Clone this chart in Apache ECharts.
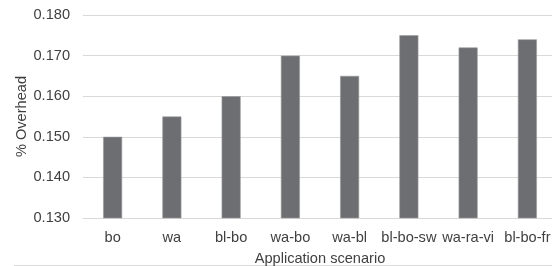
<!DOCTYPE html>
<html><head><meta charset="utf-8">
<script src="https://cdn.jsdelivr.net/npm/echarts@6/dist/echarts.min.js"></script>
<style>html,body{margin:0;padding:0;background:#fff}#c{width:552px;height:266px}</style>
</head><body><div id="c"></div>
<script>
var categories = ["bo","wa","bl-bo","wa-bo","wa-bl","bl-bo-sw","wa-ra-vi","bl-bo-fr"];
var overhead = [0.150,0.155,0.160,0.170,0.165,0.175,0.172,0.174];
var yTicks = [0.130,0.140,0.150,0.160,0.170,0.180];
var chart = echarts.init(document.getElementById('c'), null, {renderer:'canvas'});
var font = 'Liberation Sans, Arial, sans-serif';
var fs = 14.6;
chart.setOption({
  animation:false,
  backgroundColor:'#fff',
  grid:{left:83, top:15, width:474, height:203, outerBoundsMode:'none', containLabel:false},
  xAxis:{type:'category', data:categories,
    axisLine:{lineStyle:{color:'#d9d9d9'}}, axisTick:{show:false},
    axisLabel:{color:'#404040', fontSize:fs, fontFamily:font, margin:12, interval:0},
    name:'Application scenario', nameLocation:'middle', nameGap:33,
    nameMoveOverlap:false,
    nameTextStyle:{color:'#404040', fontSize:fs, fontFamily:font}},
  yAxis:{type:'value', min:yTicks[0], max:yTicks[yTicks.length-1], interval:0.01,
    axisLine:{show:false}, axisTick:{show:false},
    splitLine:{lineStyle:{color:'#d9d9d9'}},
    axisLabel:{color:'#404040', fontSize:fs, fontFamily:font, margin:13, formatter:function(v){return v.toFixed(3);}},
    name:'% Overhead', nameLocation:'middle', nameGap:54,
    nameMoveOverlap:false,
    nameTextStyle:{color:'#404040', fontSize:fs, fontFamily:font}},
  series:[{type:'bar', data:overhead, barWidth:19,
    itemStyle:{color:'#6d6e71', borderColor:'#9a9a9c', borderWidth:0.6}}],
  graphic:[{type:'line', shape:{x1:14,y1:265.5,x2:552,y2:265.5}, style:{stroke:'#d9d9d9', lineWidth:1}}]
});
</script></body></html>
